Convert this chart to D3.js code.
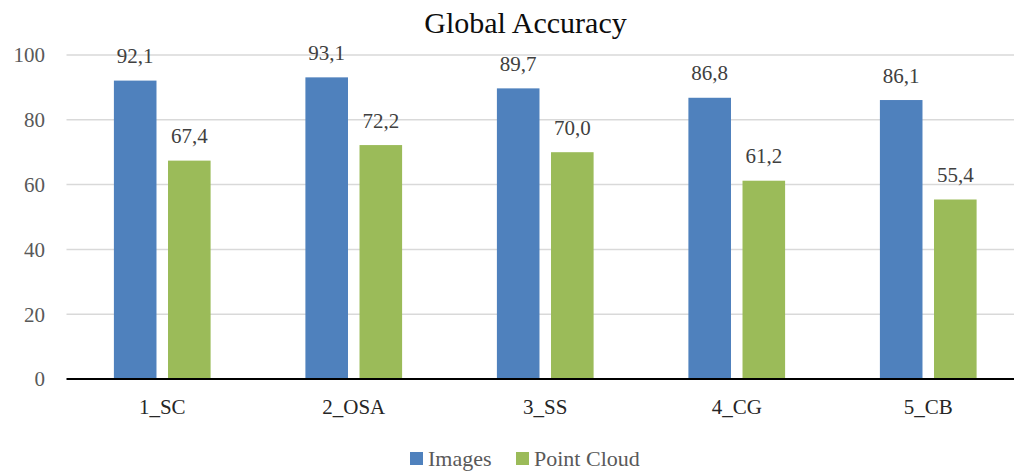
<!DOCTYPE html>
<html>
<head>
<meta charset="utf-8">
<script src="https://cdn.jsdelivr.net/npm/d3@7"></script>
<style>
  html, body { margin: 0; padding: 0; background: #fff; }
  svg { display: block; font-family: "Liberation Serif"; }
</style>
</head>
<body>
<svg id="chart" width="1014" height="472" font-family="Liberation Serif"></svg>
<script>
// Chart data
const categories = ["1_SC", "2_OSA", "3_SS", "4_CG", "5_CB"];
const seriesNames = ["Images", "Point Cloud"];
const imagesValues = [92.1, 93.1, 89.7, 86.8, 86.1];
const pointCloudValues = [67.4, 72.2, 70.0, 61.2, 55.4];
const yTicks = [0, 20, 40, 60, 80, 100];

const colors = { "Images": "#4F81BD", "Point Cloud": "#9BBB59" };
const seriesValues = { "Images": imagesValues, "Point Cloud": pointCloudValues };
const FONT = "Liberation Serif";

const svg = d3.select("#chart");
const W = 1014, H = 472;
const plot = { left: 66.5, right: 1024, top: 55, bottom: 379 };

const x0 = d3.scaleBand().domain(categories).range([plot.left, plot.right]).paddingInner(0).paddingOuter(0);
const outer = (x0.bandwidth() - 96.7) / 2;
const x1 = d3.scaleBand().domain(seriesNames).range([outer, x0.bandwidth() - outer]).paddingInner(0.213).paddingOuter(0);
const y = d3.scaleLinear().domain([0, 100]).range([plot.bottom, plot.top]);

const fmt = v => d3.format(".1f")(v).replace(".", ",");
const serif = sel => sel.attr("font-family", FONT).style("font-family", `"${FONT}"`);

// Gridlines
svg.append("g")
  .selectAll("line")
  .data(yTicks.filter(t => t > 0))
  .join("line")
  .attr("x1", plot.left).attr("x2", W)
  .attr("y1", d => y(d)).attr("y2", d => y(d))
  .attr("stroke", "#d9d9d9").attr("stroke-width", 1.5);

// Y axis labels
const yAxis = d3.axisLeft(y).tickValues(yTicks).tickSize(0).tickPadding(0).tickFormat(d3.format("d"));
const yg = svg.append("g").attr("transform", `translate(45,0)`).call(yAxis);
yg.call(serif);
yg.select(".domain").remove();
yg.selectAll("text")
  .call(serif)
  .attr("fill", "#595959").attr("font-size", 21)
  .attr("dy", "0.33em");

// Bars
const groups = svg.append("g").selectAll("g")
  .data(categories)
  .join("g")
  .attr("transform", d => `translate(${x0(d)},0)`);

groups.selectAll("rect")
  .data((c, i) => seriesNames.map(s => ({ s, v: seriesValues[s][i] })))
  .join("rect")
  .attr("x", d => x1(d.s))
  .attr("width", x1.bandwidth())
  .attr("y", d => y(d.v))
  .attr("height", d => y(0) - y(d.v))
  .attr("fill", d => colors[d.s]);

// Value labels
groups.selectAll("text.val")
  .data((c, i) => seriesNames.map(s => ({ s, v: seriesValues[s][i] })))
  .join("text")
  .attr("class", "val")
  .call(serif)
  .attr("x", d => x1(d.s) + x1.bandwidth() / 2)
  .attr("y", d => y(d.v) - 17.5)
  .attr("text-anchor", "middle")
  .attr("font-size", 21)
  .attr("fill", "#404040")
  .text(d => fmt(d.v));

// X axis labels and baseline
const xAxis = d3.axisBottom(x0).tickSize(0).tickPadding(0);
const xg = svg.append("g").attr("transform", `translate(0,${plot.bottom})`).call(xAxis);
xg.call(serif);
xg.select(".domain").remove();
xg.selectAll("text")
  .call(serif)
  .attr("fill", "#262626").attr("font-size", 21)
  .attr("dy", 0).attr("y", 35);

svg.append("line")
  .attr("x1", plot.left).attr("x2", W)
  .attr("y1", plot.bottom).attr("y2", plot.bottom)
  .attr("stroke", "#000").attr("stroke-width", 2);

// Title
svg.append("text")
  .call(serif)
  .attr("x", 525.5).attr("y", 33)
  .attr("text-anchor", "middle")
  .attr("font-size", 30)
  .attr("fill", "#0d0d0d")
  .text("Global Accuracy");

// Legend
const legendItems = [
  { name: "Images", sx: 410, tx: 428 },
  { name: "Point Cloud", sx: 516, tx: 534 }
];
const lg = svg.append("g");
lg.selectAll("rect")
  .data(legendItems)
  .join("rect")
  .attr("x", d => d.sx).attr("y", 452)
  .attr("width", 13).attr("height", 13)
  .attr("fill", d => colors[d.name]);
lg.selectAll("text")
  .data(legendItems)
  .join("text")
  .call(serif)
  .attr("x", d => d.tx).attr("y", 466)
  .attr("font-size", 22)
  .attr("fill", "#595959")
  .text(d => d.name);
</script>
</body>
</html>
